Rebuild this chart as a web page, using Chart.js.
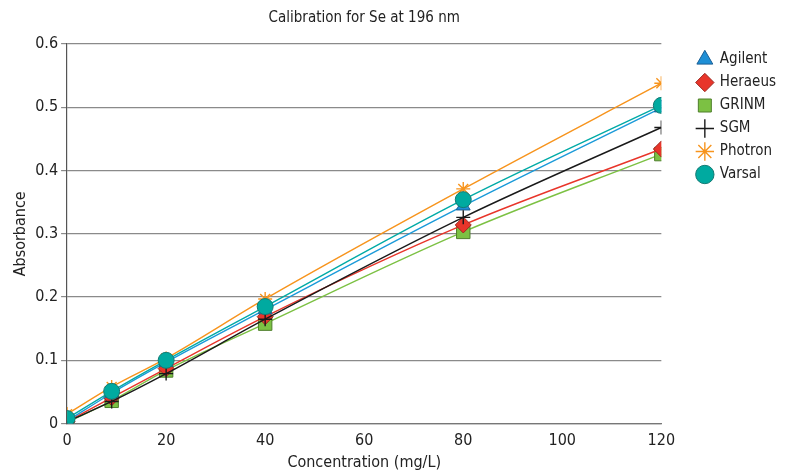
<!DOCTYPE html>
<html>
<head>
<meta charset="utf-8">
<script src="https://cdn.jsdelivr.net/npm/chart.js@4/dist/chart.umd.min.js"></script>
<style>
  html, body { margin: 0; padding: 0; background: #fff; }
  #wrap { width: 796px; height: 473px; }
</style>
</head>
<body>
<div id="wrap"><canvas id="calChart"></canvas></div>
<script>
const FONT = "'Liberation Sans Narrow', 'DejaVu Sans Condensed', sans-serif";

// concentrations (mg/L)
const conc = [0, 9, 20, 40, 80, 120];

// absorbance per supplier
const agilent = [0.004, 0.048, 0.097, 0.180, 0.344, 0.499];
const heraeus = [0.003, 0.041, 0.087, 0.169, 0.314, 0.434];
const grinm   = [0.002, 0.036, 0.084, 0.158, 0.303, 0.426];
const sgm     = [0.003, 0.035, 0.079, 0.165, 0.326, 0.468];
const photron = [0.015, 0.058, 0.103, 0.197, 0.371, 0.538];
const varsal  = [0.008, 0.051, 0.100, 0.185, 0.354, 0.503];

const yTicks = [0, 0.1, 0.2, 0.3, 0.4, 0.5, 0.6];
const xTicks = [0, 20, 40, 60, 80, 100, 120];

function pts(vals) {
  return conc.map((c, i) => ({ x: c, y: vals[i] }));
}

function series(label, vals, line, fill, border, style, radius, order) {
  return {
    label: label,
    data: pts(vals),
    borderColor: line,
    backgroundColor: fill,
    pointBackgroundColor: fill,
    pointBorderColor: border,
    pointBorderWidth: 1,
    pointStyle: style,
    pointRadius: radius,
    borderWidth: 1.4,
    cubicInterpolationMode: 'monotone',
    order: order
  };
}

const datasets = [
  series('Agilent', agilent, '#1a9ad9', '#1e8fd6', '#1b5f95', 'triangle', 8, 3),
  series('Heraeus', heraeus, '#e8352a', '#e8352a', '#9c2a22', 'rectRot', 8, 4),
  series('GRINM', grinm, '#7cc143', '#7cc143', '#4e7f2b', 'rect', 9.5, 5),
  series('SGM', sgm, '#1a1a1a', '#1a1a1a', '#1a1a1a', 'cross', 7, 2),
  series('Photron', photron, '#f7941d', '#f7941d', '#f7941d', 'star', 7, 1),
  series('Varsal', varsal, '#00aaa6', '#00aaa0', '#137a73', 'circle', 8, 0)
];
// plus and asterisk need a visible stroke
datasets[3].pointBorderWidth = 1.4;
datasets[4].pointBorderWidth = 1.4;

const titlePlugin = {
  id: 'centerTitle',
  afterDraw(chart) {
    const ctx = chart.ctx;
    const a = chart.chartArea;
    ctx.save();
    ctx.font = '15px ' + FONT;
    ctx.fillStyle = '#222';
    ctx.textAlign = 'center';
    ctx.textBaseline = 'middle';
    ctx.fillText('Calibration for Se at 196 nm', (a.left + a.right) / 2, 18);
    ctx.restore();
  }
};

new Chart(document.getElementById('calChart'), {
  type: 'line',
  data: { datasets: datasets },
  options: {
    responsive: true,
    maintainAspectRatio: false,
    animation: false,
    layout: { padding: { top: 44, left: 9, right: 10, bottom: 1 } },
    plugins: {
      legend: {
        position: 'right',
        align: 'start',
        labels: {
          usePointStyle: true,
          boxWidth: 16,
          boxHeight: 13,
          padding: 8,
          color: '#222',
          font: { family: FONT, size: 15 },
          sort: (a, b) => a.datasetIndex - b.datasetIndex
        }
      },
      tooltip: { enabled: false }
    },
    scales: {
      x: {
        type: 'linear',
        min: 0,
        max: 120,
        afterBuildTicks: s => { s.ticks = xTicks.map(v => ({ value: v })); },
        grid: { display: false, drawOnChartArea: false, tickLength: 6, color: '#555' },
        border: { color: '#777', width: 1.2 },
        ticks: { color: '#222', font: { family: FONT, size: 16 }, padding: 2 },
        title: { display: true, text: 'Concentration (mg/L)', color: '#222', font: { family: FONT, size: 16 }, padding: 0 }
      },
      y: {
        min: 0,
        max: 0.6,
        afterBuildTicks: s => { s.ticks = yTicks.map(v => ({ value: v })); },
        grid: { color: '#8a8a8a', lineWidth: 1.2, tickLength: 6 },
        border: { color: '#555', width: 1.2 },
        ticks: { color: '#222', font: { family: FONT, size: 16 }, padding: 3, callback: v => String(+v.toFixed(1)) },
        title: { display: true, text: 'Absorbance', color: '#222', font: { family: FONT, size: 16 }, padding: 2 }
      },
      // empty spacer between plot and legend
      gap: {
        position: 'right',
        min: 0,
        max: 1,
        grid: { display: false },
        border: { display: false },
        ticks: { display: false },
        afterFit: s => { s.width = 28; }
      }
    }
  },
  plugins: [titlePlugin]
});
</script>
</body>
</html>
